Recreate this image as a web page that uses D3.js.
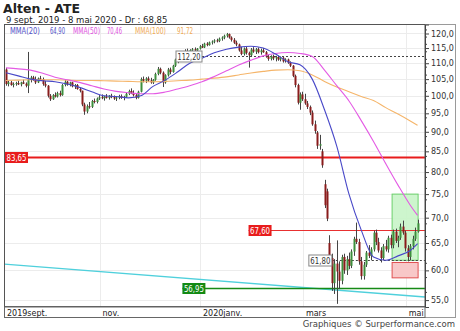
<!DOCTYPE html>
<html>
<head>
<meta charset="utf-8">
<script src="https://cdn.jsdelivr.net/npm/d3@7"></script>
<style>
body{margin:0;background:#fff;}
svg{display:block;font-family:"DejaVu Sans",Verdana,sans-serif;}
</style>
</head>
<body>
<div id="chartDiv"></div>
<script>
// daily candles, sept 9 2019 -> may 8 2020
let open = [108,103.5,104,103.2,103.5,103.8,103.4,104,103.6,103,
104.8,105.5,105,104,105.2,105,103.5,103,100,99,
100.2,99.8,100.8,100.2,103.2,104.2,103.4,104,102.8,103.2,
102,101.5,97.5,95.5,97,96.8,98.5,98.2,99.2,99.6,
99.3,99.8,99.4,100,99.6,99.2,99.5,99.9,99.4,99.7,
100.6,101.4,100.8,100.2,99.4,101.2,105,104.5,105.2,104.6,
104,104.8,106.6,108.2,107,104,106.2,108,107.2,109.2,
111.2,111,112,113.6,114,113.5,114.3,114.6,114.2,114.8,
115.6,115.2,116.5,116,116.9,117.2,117.6,117.4,118.2,118.6,
119.2,119.8,118.6,117.8,116.8,116.2,114.2,113,114.8,113.4,
112.6,114.5,113.8,114.6,113.6,114.2,113.6,112.2,111.4,112.2,
111.6,112,111.2,111.8,111,111.2,110.2,109.2,106,103.2,
98,100.4,99,97.8,96.8,95.2,92,89.8,86.4,85,
77.2,75.6,65,62.2,57.8,61.2,59.8,58.2,62.4,60,
62,60.8,63.4,65.8,65.2,61.6,59,61,63.2,62.6,
63.8,67,65.2,63.6,62.2,64.4,63.8,66,64.6,67.2,
65.4,66,68.2,67,64,62.4,64.4,65.8,67.2];
let high = [108.5,104.5,104.5,104,104.2,104.5,104.2,104.8,104,113.7,
106,106,105.8,105.5,106,105.5,104.5,103.2,100.5,100.5,
101,101.2,101.5,103.5,104.8,104.5,104.2,104.2,103.5,103.5,
102.5,101.5,98,97.5,98.2,98.8,99.2,99.5,100.2,100.4,
100,100.5,100.2,100.6,100.1,99.8,100.3,100.4,100,101,
101.8,102.2,101.6,100.8,101.5,105.5,105.8,105.6,105.8,105.4,
105,107,108.8,108.6,107.4,106.5,108.5,108.6,109.5,111.5,
112.2,112.5,114,114.6,114.8,114.6,115,115.2,115,116,
116.4,116.8,117,117.2,117.6,118,118.2,118.6,119,119.6,
120.2,120,119,118.4,117.5,116.5,115.4,115.2,115.4,113.8,
115,115.3,115,115.2,114.8,115,114,112.8,112.6,112.8,
112.4,112.5,112.2,112,111.6,111.5,110.6,109.4,106.4,103.6,
101,101.2,100.6,98.5,97.2,95.8,93,90.2,89.2,85.6,
78.2,76.2,66.5,63,62,65.5,61.6,62.8,63,62.6,
63.2,63.8,66.2,69,65.8,62.4,61.5,63.5,64.6,64.2,
67.4,67.6,66,64.2,64.8,65.6,66.4,66.6,67.6,67.8,
66.4,68.8,69.4,67.4,64.6,64.8,66.4,68,69.6];
let low = [103,102.8,103,102.5,103,103.2,102.8,103.5,102.5,100.8,
104,104.5,103.5,103.8,104.5,103,102.5,99.5,98.5,98.8,
99.5,99.5,99.8,100,102.8,103,102.8,102.5,102,101.8,
101,97,94.6,95,96.3,96.5,97.8,97.8,98.8,99,
98.6,99.2,98.9,99.3,98.8,98.5,99,99.1,98.7,99.4,
100.2,100.5,99.8,99,99.2,101,104,103.8,104.2,103.6,
103.5,104.5,106.2,106.5,102.6,103.6,105.8,106.5,107,108.8,
110,110.6,111.8,113,113.2,113,113.8,113.9,113.6,114.5,
115,115,115.6,115.8,116.2,116.6,116.9,117,117.5,118,
118.6,118.2,117.2,116.4,115.6,113.8,112.6,112.5,112.8,108.6,
112.2,113.4,113,113.2,112.8,113.4,111.8,110.8,110.9,111,
110.6,110.8,110.6,110.2,110.2,109.8,108.8,105.6,102.5,97.5,
96,98.5,97.4,96.2,94.5,91.6,89.5,85.6,85.4,81,
72,69.3,61.5,56.5,56,54.4,56.8,57.6,59.4,59.2,
60.2,60.4,62.6,64.8,61,58.4,58.4,60.6,62.2,61.8,
63.4,64.6,63.2,61.4,61.8,63.4,63.2,64,64,65,
64.2,65.6,66.6,63.4,61.6,61.8,63.8,65.4,67];
let close = [103.5,104,103.2,103.5,103.8,103.4,104,103.6,103,104.8,
105.5,105,104,105.2,105,103.5,103,100,99,100.2,
99.8,100.8,100.2,103.2,104.2,103.4,104,102.8,103.2,102,
101.5,97.5,95.5,97,96.8,98.5,98.2,99.2,99.6,99.3,
99.8,99.4,100,99.6,99.2,99.5,99.9,99.4,99.7,100.6,
101.4,100.8,100.2,99.4,101.2,105,104.5,105.2,104.6,104,
104.8,106.6,108.2,107,104,106.2,108,107.2,109.2,111.2,
110.8,112,113.6,114,113.5,114.3,114.6,114.2,114.8,115.6,
115.2,116.5,116,116.9,117.2,117.6,117.4,118.2,118.6,119.2,
119.8,118.6,117.8,116.8,116.2,114.2,113,114.8,113.4,112.6,
114.5,113.8,114.6,113.6,114.2,113.6,112.2,111.4,112.2,111.6,
112,111.2,111.8,110.6,111.2,110.2,109.2,106,103.2,98,
100.4,99,97.8,96.8,95.2,92,90.2,86.4,86.8,81.6,
72.6,69.8,62.2,57.8,61.2,59.8,58.2,62.4,60,62,
60.8,63.4,65.8,65.2,61.6,59,61,63.2,62.6,63.8,
67,65.2,63.6,62.2,64.4,63.8,66,64.6,67.2,65.4,
66,68.2,67,64,62.4,64.4,65.8,67.2,68.85];

// moving averages read every 5 sessions (last one = session 168)
let maIdx = [0,5,10,15,20,25,30,35,40,45,50,55,60,65,70,75,80,85,90,95,100,105,110,115,120,125,130,135,140,145,150,155,160,165,168];
let mma20 = [107,106,105,104.5,104.2,103.5,102.5,101.2,100,99.8,99.4,100,102.8,104.7,107.2,110,111.6,113.4,114.6,115.3,115.6,115,113,110.5,109.5,105,96,86.3,75,67.5,62.4,61.8,62.6,63.6,64.9];
let mma50 = [108.5,108.2,107.8,106.8,105.6,104.8,104,103,102,101.3,100.9,100.6,100.6,101.1,102,103,104.2,105.8,107.6,109.4,111,112.4,113.2,113.5,113.2,112.2,107.8,103,98.5,93,87.5,82,77,72.6,70.46];
let mma100 = [104.6,104.7,104.8,104.8,104.8,104.7,104.6,104.6,104.5,104.4,104.3,104.2,104.2,104.3,104.5,104.7,105,105.3,105.7,106.3,106.9,107.4,107.8,107.9,107.6,106.3,104.3,102.6,101.2,99.8,98.6,96.6,94.8,92.9,91.72];

let holidays = ["2019-12-25","2019-12-26","2020-01-01","2020-04-10","2020-04-13","2020-05-01"];
let monthLabels = ["2019sept.","nov.","2020janv.","mars","mai"];
let monthDates = ["2019-09-09","2019-11-01","2020-01-02","2020-03-02","2020-05-04"];
let yTicks = [55,60,65,70,75,80,85,90,95,100,105,110,115,120];

let levels = [
 {v:83.65, txt:"83,65", kind:"red", from:"2019-09-09"},
 {v:67.60, txt:"67,60", kind:"redThin", from:"2020-01-29"},
 {v:56.95, txt:"56,95", kind:"green", from:"2019-12-18"},
 {v:61.80, txt:"61,80", kind:"dot", from:"2020-03-17"},
 {v:112.20, txt:"112,20", kind:"dot", from:"2020-01-02"}];
let trendStart = 61.1, trendEnd = 55.5;
let targetBox = [61.8, 75.0], stopBox = [58.7, 61.4];

let legendNames = ["MMA(20)","MMA(50)","MMA(100)"];
let legendValues = ["64,90","70,46","91,72"];

// trading days
let fmt = d3.timeFormat("%Y-%m-%d");
let days = d3.timeDay.range(new Date(2019,8,9), new Date(2020,4,9))
 .filter(d => d.getDay()!=0 && d.getDay()!=6 && !holidays.includes(fmt(d)));
let dayIdx = s => days.findIndex(d => fmt(d)>=s);
console.log(days.length, close.length);

let width = 460, height = 331;
let L = 4.5, R = 425, T = 24.5, B = 307;

let svg = d3.select("#chartDiv").append("svg").attr("width",width).attr("height",height);

let x = d3.scaleLinear().domain([0,days.length-1]).range([6,417.6]);
let y = d3.scaleLog().domain([53.9,123.2]).range([B,T]);

// frames
svg.append("rect").attr("x",4.5).attr("y",24.5).attr("width",451).attr("height",293).style("fill","#fff").style("stroke","#9a9a9a");

// grid
svg.append("g").selectAll("line").data(yTicks).enter().append("line")
 .attr("x1",L).attr("x2",R).attr("y1",d => Math.round(y(d))+0.5).attr("y2",d => Math.round(y(d))+0.5)
 .style("stroke","#ececec");
svg.append("g").selectAll("line").data(monthDates.slice(1)).enter().append("line")
 .attr("x1",d => Math.round(x(dayIdx(d))-2)+0.5).attr("x2",d => Math.round(x(dayIdx(d))-2)+0.5)
 .attr("y1",T).attr("y2",B).style("stroke","#ececec");

// trend line
svg.append("line").attr("x1",L).attr("x2",R)
 .attr("y1",y(trendStart)).attr("y2",y(trendEnd))
 .style("stroke","#4fd0dc").style("stroke-width",1.3);

// boxes
let bx1 = x(dayIdx("2020-04-23"))-1, bx2 = x(days.length-1)+0.5;
svg.append("rect").attr("x",bx1).attr("width",bx2-bx1).attr("y",y(targetBox[1])).attr("height",y(targetBox[0])-y(targetBox[1]))
 .style("fill","#c8f5c8").style("stroke","#5ccc5c").style("opacity",0.9);
svg.append("rect").attr("x",bx1).attr("width",bx2-bx1).attr("y",y(stopBox[1])).attr("height",y(stopBox[0])-y(stopBox[1]))
 .style("fill","#f8c8c8").style("stroke","#e05050");

// level lines
let lvColor = {red:"#e81c1c", redThin:"#e83030", green:"#168a16", dot:"#444"};
levels.forEach(l => {
 let yy = Math.round(y(l.v))+0.5;
 let xs = x(dayIdx(l.from));
 let line = svg.append("line").attr("x1",xs).attr("x2",R).attr("y1",yy).attr("y2",yy)
  .style("stroke",lvColor[l.kind]).style("stroke-width", l.kind=="red" ? 2 : (l.kind=="green" ? 1.6 : 1));
 if (l.kind=="dot") line.style("stroke-dasharray","2,2");
});

// candles
let idx = d3.range(days.length);
svg.append("g").selectAll("line").data(idx).enter().append("line")
 .attr("x1",i => Math.round(x(i))+0.5).attr("x2",i => Math.round(x(i))+0.5)
 .attr("y1",i => y(high[i])).attr("y2",i => y(low[i]))
 .style("stroke","#444").style("stroke-width",1);
svg.append("g").selectAll("rect").data(idx).enter().append("rect")
 .attr("x",i => Math.round(x(i))-0.5).attr("width",2)
 .attr("y",i => y(Math.max(open[i],close[i])))
 .attr("height",i => Math.max(1, Math.abs(y(open[i])-y(close[i]))))
 .style("fill",i => close[i]>=open[i] ? "#3d8f3d" : "#8a1c1c");

// moving averages
let maLine = d3.line().x((d,k) => x(maIdx[k])).y(d => y(d)).curve(d3.curveMonotoneX);
[[mma100,"#f5b56a"],[mma50,"#e45ae4"],[mma20,"#4848c8"]].forEach(m => {
 svg.append("path").attr("d",maLine(m[0])).style("fill","none").style("stroke",m[1]).style("stroke-width",1.1);
});

// level labels
let lbFill = {red:"#e81c1c", redThin:"#e81c1c", green:"#138a13", dot:"#fff"};
levels.forEach(l => {
 let yy = Math.round(y(l.v))+0.5;
 let w = l.txt.length>5 ? 26 : 23;
 let xs = l.kind=="red" ? L+0.5 : x(dayIdx(l.from)) - (l.kind=="dot" ? w : 0);
 svg.append("rect").attr("x",xs).attr("y",yy-5.5).attr("width",w).attr("height",11)
  .style("fill",lbFill[l.kind]).style("stroke", l.kind=="dot" ? "#888" : "none");
 svg.append("text").attr("x",xs+1.5).attr("y",yy+3).attr("textLength",w-3).attr("lengthAdjust","spacingAndGlyphs")
  .style("font-size","8.5px").style("fill", l.kind=="dot" ? "#333" : "#fff").text(l.txt);
});

// plot border + x axis band
svg.append("rect").attr("x",L).attr("y",T).attr("width",R-L).attr("height",B-T).style("fill","none").style("stroke","#555");
svg.append("line").attr("x1",L).attr("x2",R).attr("y1",B).attr("y2",B).style("stroke","#444").style("stroke-width",1.5);
svg.append("rect").attr("x",L).attr("y",B).attr("width",R-L).attr("height",10.5).style("fill","#fff").style("stroke","#666");

svg.selectAll(".mlab").data(monthLabels).enter().append("text").attr("class","mlab")
 .attr("x",(d,k) => k==0 ? 7 : x(dayIdx(monthDates[k]))+1).attr("y",315.5)
 .style("font-size","8px").style("fill","#222").text(d => d);

// y axis on the right
let minor = d3.range(56.25, 123, 2.5).filter(v => y(v) > T+2 && y(v) < B-1);
let axisY = d3.axisRight(y).tickValues(yTicks).tickSize(4).tickPadding(2).tickFormat(d => d3.format(".1f")(d).replace(".",","));
let gy = svg.append("g").attr("transform","translate("+R+",0)").call(axisY);
gy.select(".domain").style("stroke","#444");
gy.selectAll("line").style("stroke","#444");
gy.selectAll("text").style("font-size","8px").style("fill","#333").style("font-family","'DejaVu Sans',sans-serif");
svg.append("g").selectAll("line").data(minor).enter().append("line")
 .attr("x1",R).attr("x2",R+2).attr("y1",d => y(d)).attr("y2",d => y(d)).style("stroke","#444");

// title
svg.append("text").attr("x",3).attr("y",13).style("font-size","12.5px").style("font-weight","bold").style("fill","#222").text("Alten - ATE");
svg.append("text").attr("x",6).attr("y",23).style("font-size","8.5px").style("fill","#222").text("9 sept. 2019 - 8 mai 2020 - Dr : 68,85");

// legend
let legColors = ["#5050c8","#e050e0","#f0aa55"];
let legNameX = [10,73,135], legNameW = [30,27,31];
let legValX = [50,107,177], legValW = [15,15,16];
legendNames.forEach((n,k) => {
 svg.append("text").attr("x",legNameX[k]).attr("y",34).attr("textLength",legNameW[k]).attr("lengthAdjust","spacingAndGlyphs")
  .style("font-size","8px").style("fill",legColors[k]).text(n);
 svg.append("text").attr("x",legValX[k]).attr("y",34).attr("textLength",legValW[k]).attr("lengthAdjust","spacingAndGlyphs")
  .style("font-size","8px").style("fill",legColors[k]).text(legendValues[k]);
});

svg.append("text").attr("x",455).attr("y",327).attr("text-anchor","end").style("font-size","8.5px").style("fill","#444")
 .text("Graphiques \u00a9 Surperformance.com");
</script>
</body>
</html>
